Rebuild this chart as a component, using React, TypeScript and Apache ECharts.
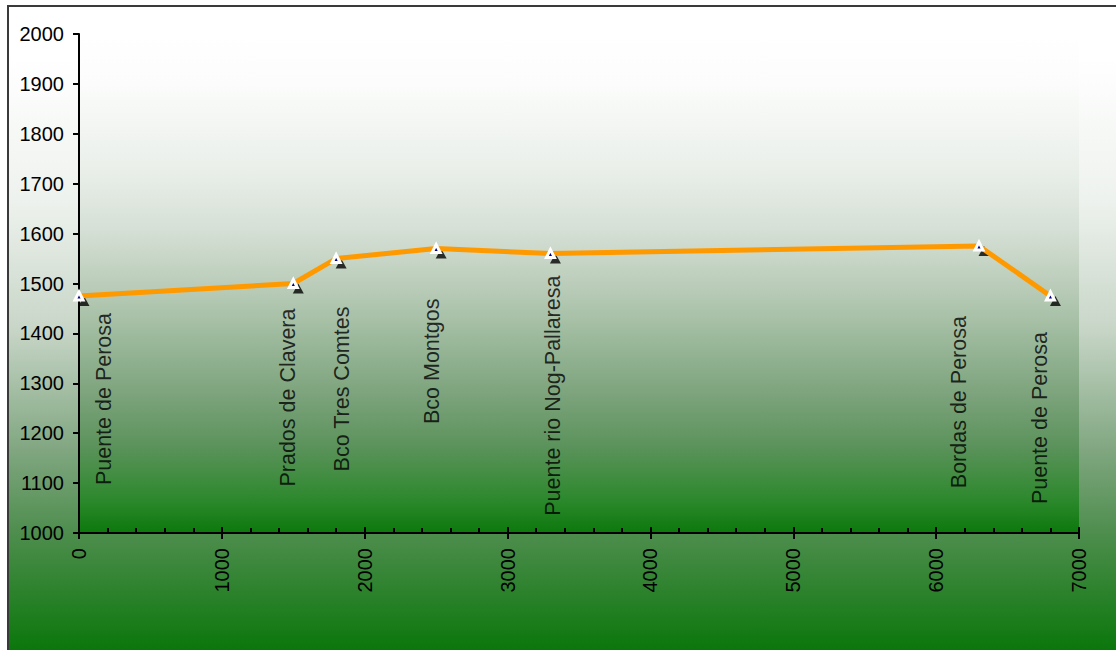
import React, { useEffect, useRef } from "react";
import * as echarts from "echarts";

// Distance along the route (m) and elevation (m)
const distances = [0, 1500, 1800, 2500, 3300, 6300, 6800];
const elevations = [1475, 1500, 1550, 1570, 1560, 1575, 1475];
const placeNames = [
  "Puente de Perosa",
  "Prados de Clavera",
  "Bco Tres Comtes",
  "Bco Montgos",
  "Puente rio Nog-Pallaresa",
  "Bordas de Perosa",
  "Puente de Perosa",
];
const xTicks = { min: 0, max: 7000, interval: 1000 };
const yTicks = { min: 1000, max: 2000, interval: 100 };

// styling: label anchor offsets in px (center-x, top) relative to each point
const labelOffsets: [number, number][] = [
  [25, 17],
  [-5, 25],
  [6, 48],
  [-4, 50],
  [3, 22],
  [-20, 70],
  [-10, 36],
];

const FONT = "'Liberation Sans', Arial, sans-serif";
const plain = (v: number) => String(v);

export default function App() {
  const ref = useRef<HTMLDivElement>(null);
  useEffect(() => {
    if (!ref.current) return;
    const chart = echarts.init(ref.current, undefined, { renderer: "svg" });
    const pts = distances.map((d, i) => [d, elevations[i]]);
    const option: any = {
      animation: false,
      graphic: [
        {
          type: "rect",
          z: -100,
          zlevel: 0,
          silent: true,
          shape: { x: 8, y: 6, width: 1130, height: 670 },
          style: {
            fill: new echarts.graphic.LinearGradient(
              0,
              6,
              0,
              650,
              [
                { offset: 0, color: "#ffffff" },
                { offset: 0.08, color: "#ffffff" },
                { offset: 0.3, color: "#eef2ee" },
                { offset: 0.5, color: "#c8d6c8" },
                { offset: 0.69, color: "#80a680" },
                { offset: 0.82, color: "#4d8d4d" },
                { offset: 1, color: "#0b770b" },
              ],
              true
            ),
            stroke: "#3a3a3a",
            lineWidth: 2,
          },
        },
      ],
      grid: {
        left: 79,
        right: 37,
        top: 34,
        bottom: 117,
        show: true,
        borderWidth: 0,
        backgroundColor: new echarts.graphic.LinearGradient(0, 0, 0, 1, [
          { offset: 0, color: "#ffffff" },
          { offset: 0.1, color: "#fbfcfb" },
          { offset: 0.27, color: "#eaefea" },
          { offset: 0.39, color: "#d6e0d6" },
          { offset: 0.53, color: "#b3c8b2" },
          { offset: 0.73, color: "#7aa27a" },
          { offset: 0.83, color: "#5a925a" },
          { offset: 0.93, color: "#2e892e" },
          { offset: 1, color: "#0c790c" },
        ]),
      },
      xAxis: [
        {
          type: "value",
          position: "bottom",
          min: xTicks.min,
          max: xTicks.max,
          interval: xTicks.interval,
          axisLine: { show: true, onZero: false, lineStyle: { color: "#000", width: 2 } },
          axisTick: { show: true, inside: false, length: 6, lineStyle: { color: "#000", width: 2 } },
          axisLabel: {
            rotate: 90,
            margin: 15,
            color: "#000",
            fontSize: 20,
            fontFamily: FONT,
            formatter: plain,
          },
          splitLine: { show: false },
        },
        {
          type: "value",
          position: "bottom",
          min: xTicks.min,
          max: xTicks.max,
          interval: xTicks.interval,
          axisLine: { show: false, onZero: false },
          axisTick: { show: true, inside: true, length: 6, lineStyle: { color: "#000", width: 2 } },
          minorTick: { show: true, splitNumber: 5, length: 5, lineStyle: { color: "#000", width: 2 } },
          axisLabel: { show: false },
          splitLine: { show: false },
          minorSplitLine: { show: false },
        },
      ],
      yAxis: {
        type: "value",
        min: yTicks.min,
        max: yTicks.max,
        interval: yTicks.interval,
        axisLine: { show: true, lineStyle: { color: "#000", width: 2 } },
        axisTick: { show: true, length: 6, lineStyle: { color: "#000", width: 2 } },
        axisLabel: { margin: 15, color: "#000", fontSize: 20, fontFamily: FONT, formatter: plain },
        splitLine: { show: false },
      },
      series: [
        {
          type: "scatter",
          z: 1,
          xAxisIndex: 0,
          data: pts,
          symbol: "triangle",
          symbolSize: [11, 10],
          symbolOffset: [5, 5],
          itemStyle: { color: "#000" },
          silent: true,
        },
        {
          type: "line",
          z: 2,
          xAxisIndex: 0,
          data: pts,
          symbol: "triangle",
          symbolSize: 8,
          showAllSymbol: true,
          lineStyle: { color: "#ff9900", width: 5 },
          itemStyle: { color: "#000080", borderColor: "#ffffff", borderWidth: 3 },
          silent: true,
        },
        {
          type: "scatter",
          z: 3,
          xAxisIndex: 0,
          symbol: "circle",
          symbolSize: 1,
          itemStyle: { color: "rgba(0,0,0,0)" },
          silent: true,
          data: pts.map((p, i) => ({
            value: p,
            name: placeNames[i],
            label: {
              show: true,
              position: [labelOffsets[i][0] + 0.5, labelOffsets[i][1] + 0.5],
            },
          })),
          label: {
            show: true,
            formatter: "{b}",
            rotate: 90,
            align: "right",
            verticalAlign: "middle",
            color: "#000",
            fontSize: 21.5,
            fontFamily: FONT,
          },
        },
      ],
    };
    chart.setOption(option);
    return () => chart.dispose();
  }, []);
  return (
    <div
      ref={ref}
      style={{ position: "absolute", left: 0, top: 0, width: 1116, height: 650 }}
    />
  );
}
